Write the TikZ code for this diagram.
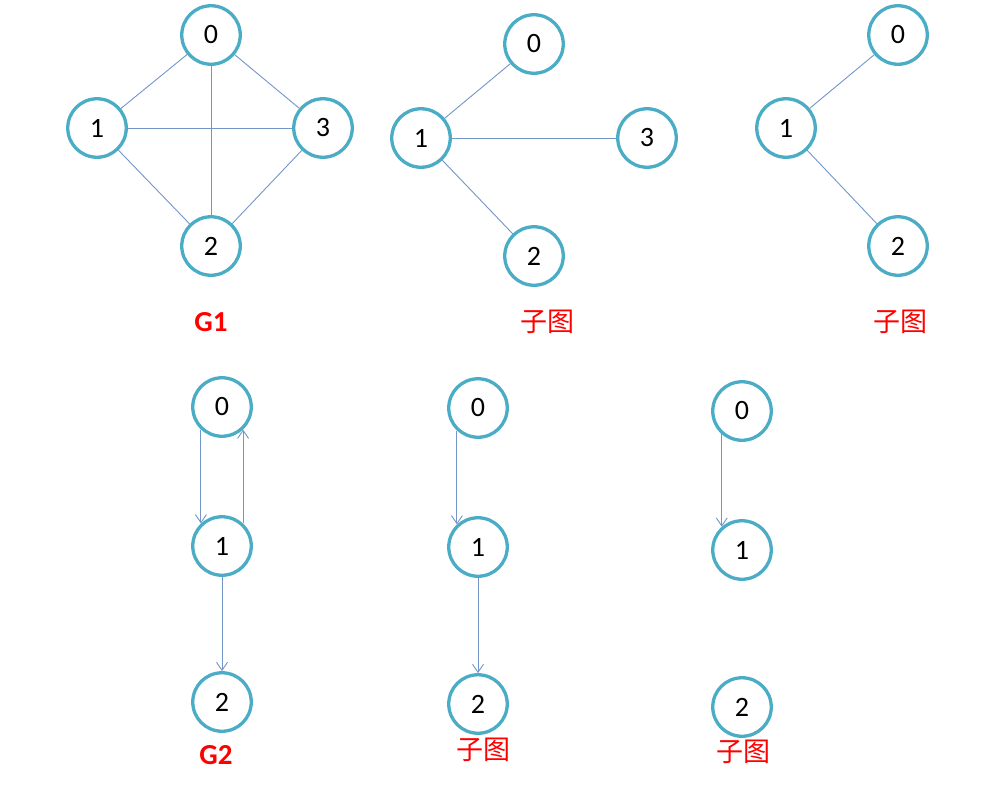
\documentclass[tikz,border=0pt]{standalone}
\usepackage{fontspec}
\setmainfont{Carlito}
\newfontfamily\cjk{Noto Sans CJK SC}
\usetikzlibrary{arrows.meta}
\definecolor{ringblue}{HTML}{4BACC6}
\definecolor{edgeblue}{HTML}{7395C8}
\definecolor{labelred}{HTML}{FF0000}
\tikzset{
    vertex/.style={circle, draw=ringblue, line width=3.3pt, minimum size=58.5pt,
        inner sep=0pt, font=\fontsize{28}{32}\selectfont},
    edge/.style={draw=edgeblue, line width=0.9pt},
    arc/.style={edge, -{Straight Barb[length=8pt, width=11pt]}},
    caption/.style={text=labelred, font=\fontsize{29}{33}\selectfont\bfseries},
    cjkcaption/.style={text=labelred, font=\cjk\fontsize{27}{31}\selectfont}
}
\begin{document}
\begin{tikzpicture}[x=1pt, y=-1pt]
    \useasboundingbox (0,0) rectangle (981,784);
    % G1
    \node[vertex] (ga0) at (211,35) {0};
    \node[vertex] (ga1) at (97,128) {1};
    \node[vertex] (ga3) at (323,128) {3};
    \node[vertex] (ga2) at (211,246) {2};
    \draw[edge] (ga0) -- (ga1);
    \draw[edge] (ga0) -- (ga3);
    \draw[edge] (ga0) -- (ga2);
    \draw[edge] (ga1) -- (ga3);
    \draw[edge] (ga1) -- (ga2);
    \draw[edge] (ga3) -- (ga2);
    \node[caption] (capa) at (211,322) {G1};
    % subgraph of G1, three edges
    \node[vertex] (gb0) at (534,44) {0};
    \node[vertex] (gb1) at (421,138) {1};
    \node[vertex] (gb3) at (647,138) {3};
    \node[vertex] (gb2) at (534,256) {2};
    \draw[edge] (gb1) -- (gb0);
    \draw[edge] (gb1) -- (gb3);
    \draw[edge] (gb1) -- (gb2);
    \node[cjkcaption] (capb) at (547,322) {子图};
    % subgraph of G1, two edges
    \node[vertex] (gc0) at (898,35) {0};
    \node[vertex] (gc1) at (786,128) {1};
    \node[vertex] (gc2) at (898,246) {2};
    \draw[edge] (gc1) -- (gc0);
    \draw[edge] (gc1) -- (gc2);
    \node[cjkcaption] (capc) at (900,322) {子图};
    % G2 (directed)
    \node[vertex] (gd0) at (222,407) {0};
    \node[vertex] (gd1) at (222,546) {1};
    \node[vertex] (gd2) at (222,702) {2};
    \draw[arc] (gd0.-133) -- (gd1.133);
    \draw[arc] (gd1.47) -- (gd0.-47);
    \draw[arc] (gd1) -- (gd2);
    \node[caption] (capd) at (216,755) {G2};
    % subgraph of G2, two arcs
    \node[vertex] (ge0) at (478,408) {0};
    \node[vertex] (ge1) at (478,547) {1};
    \node[vertex] (ge2) at (478,704) {2};
    \draw[arc] (ge0.-133) -- (ge1.133);
    \draw[arc] (ge1) -- (ge2);
    \node[cjkcaption] (cape) at (483,750) {子图};
    % subgraph of G2, one arc
    \node[vertex] (gf0) at (742,411) {0};
    \node[vertex] (gf1) at (742,550) {1};
    \node[vertex] (gf2) at (742,707) {2};
    \draw[arc] (gf0.-131) -- (gf1.131);
    \node[cjkcaption] (capf) at (743,752) {子图};
\end{tikzpicture}
\end{document}
